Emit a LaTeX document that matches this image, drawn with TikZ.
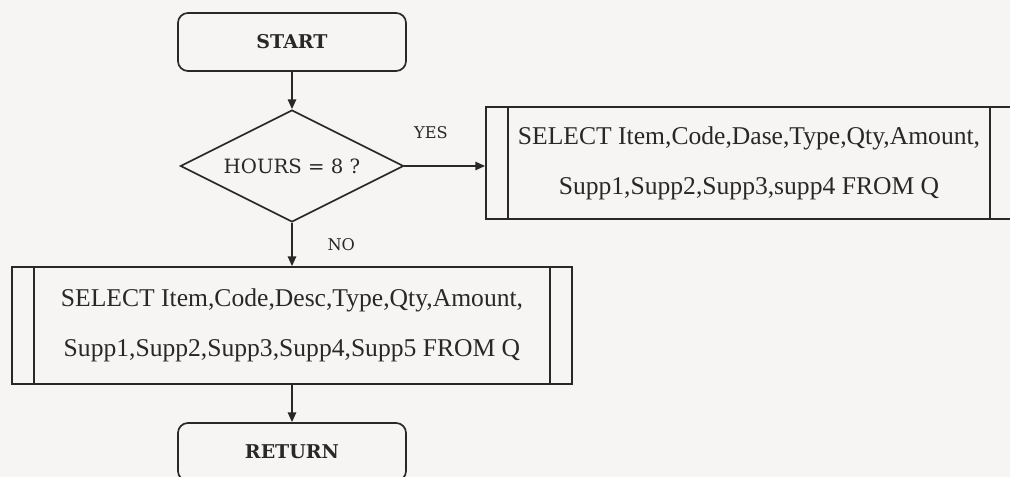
\documentclass[tikz,border=0pt]{standalone}
\usepackage{fontspec}
\setmainfont{Liberation Serif}
\newfontfamily\slabfont{DejaVu Serif}
\usetikzlibrary{shapes.geometric,arrows.meta}
\definecolor{paper}{RGB}{246,245,243}
\definecolor{ink}{RGB}{40,40,40}
\tikzset{
  termbox/.style={draw, rounded corners=0.25cm, minimum width=5.7cm, minimum height=1.45cm,
    font=\slabfont\bfseries\fontsize{13.5}{15}\selectfont},
  decbox/.style={draw, diamond, aspect=2, inner sep=1pt, minimum width=5.575cm, minimum height=2.8cm,
    font=\slabfont\fontsize{14}{16}\selectfont},
  procbox/.style={draw, align=center, font=\fontsize{18.2}{35.5}\selectfont,
    path picture={
      \draw ([xshift=#1]path picture bounding box.north west) -- ([xshift=#1]path picture bounding box.south west);
      \draw ([xshift=-#1]path picture bounding box.north east) -- ([xshift=-#1]path picture bounding box.south east);}},
  procbox/.default=0.55cm,
  tag/.style={font=\slabfont\fontsize{11.5}{13}\selectfont}
}

\begin{document}
\begin{tikzpicture}[x=0.025cm, y=-0.025cm, line width=1.2pt, draw=ink, text=ink, >={Triangle[length=7pt,width=6pt]}]
  \clip (0,0) rectangle (1010,477);
  \fill[paper] (0,0) rectangle (1010,477);

  \node[termbox] (start) at (292,42) {START};
  \node[decbox] (hours) at (292,166) {HOURS = 8 ?};
  \node[procbox, minimum width=13.15cm, minimum height=2.8cm] (selyes) at (749,163)
    {SELECT Item,Code,Dase,Type,Qty,Amount,\\Supp1,Supp2,Supp3,supp4 FROM Q};
  \node[procbox, minimum width=14cm, minimum height=2.925cm] (selno) at (292,325.5)
    {SELECT Item,Code,Desc,Type,Qty,Amount,\\Supp1,Supp2,Supp3,Supp4,Supp5 FROM Q};
  \node[termbox] (ret) at (292,452) {RETURN};

  \draw[->] (start) -- (hours);
  \draw[->] (hours.east) -- (hours.east -| selyes.west) node[tag, pos=0.33, above=0.55cm] {YES};
  \draw[->] (hours) -- (selno) node[tag, midway, right=0.75cm] {NO};
  \draw[->] (selno) -- (ret);
\end{tikzpicture}
\end{document}
